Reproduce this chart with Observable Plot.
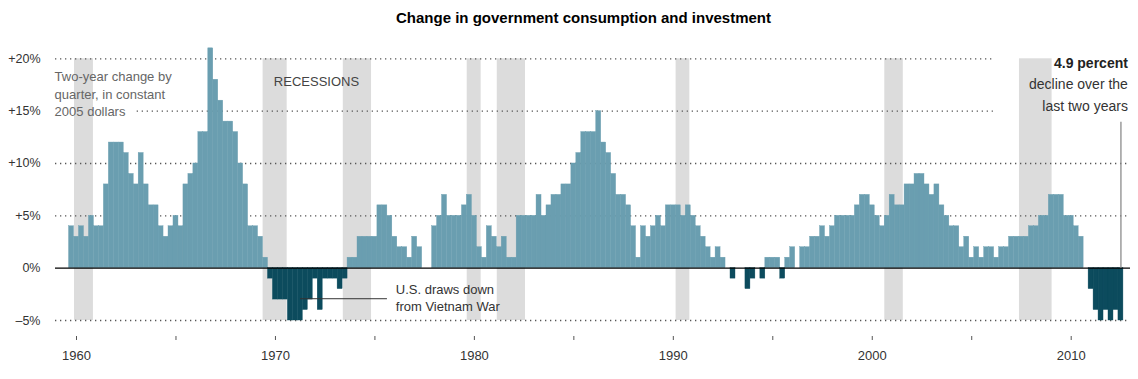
<!DOCTYPE html>
<html><head><meta charset="utf-8">
<script src="https://cdn.jsdelivr.net/npm/d3@7"></script>
<script src="https://cdn.jsdelivr.net/npm/@observablehq/plot@0.6"></script>
<style>
body{margin:0;background:#fff;font-family:"Liberation Sans",Arial,sans-serif;}
#title{height:36px;line-height:36px;font-size:15px;font-weight:bold;text-align:center;padding-left:29px;width:1109px;color:#000;}
#chart svg{display:block;}
</style></head><body>
<div id="title">Change in government consumption and investment</div>
<div id="chart"></div>
<script>
// Quarterly two-year change (%), first bar = 1959 Q4
const firstYear = 1959, firstQuarter = 4;
const values = [
 4,3,4,3,5,4,4,8,12,12,12,11,9,8,11,8,6,6,4,3,4,5,4,8,9,10,13,13,21,18,
 16,14,14,13,10,8,4,4,3,1,-1,-3,-3,-3,-5,-5,-5,-4,-3,-1,-4,-1,-1,-1,-2,-1,1,1,3,3,
 3,3,6,6,5,3,2,2,1,3,2,0,0,4,5,7,5,5,5,6,7,5,2,1,4,3,2,3,1,1,
 5,5,5,5,7,5,6,7,7,8,8,10,11,13,13,13,15,12,11,9,7,7,6,4,1,4,3,4,5,4,
 6,6,6,5,6,5,4,3,2,1,2,1,0,-1,0,0,-2,-1,0,-1,1,1,1,-1,1,2,0,2,2,3,
 3,4,3,4,5,5,5,5,6,7,7,6,5,4,5,7,6,6,8,8,9,9,8,7,8,6,5,4,4,2,
 3,1,2,1,2,2,1,2,2,3,3,3,3,4,4,5,5,7,7,7,5,5,4,3,0,-2,-4,-5,-4,-5,
 -4,-5
];
// Recession bands (decimal years as drawn)
const recessionStart = [1959.9, 1969.38, 1973.41, 1979.64, 1981.15, 1990.14, 2000.63, 2007.4];
const recessionEnd   = [1960.85, 1970.59, 1974.83, 1980.34, 1982.57, 1990.83, 2001.56, 2009.04];
// Axis ticks
const yTicks = [20, 15, 10, 5, 0, -5];
const yTickLabels = ["+20%", "+15%", "+10%", "+5%", "0%", "\u20135%"];
const xTicks = [1960, 1965, 1970, 1975, 1980, 1985, 1990, 1995, 2000, 2005, 2010];
const xTickLabels = ["1960", "", "1970", "", "1980", "", "1990", "", "2000", "", "2010"];
// Dotted gridlines (value, start year, end year)
const gridValues = [20, 15, 10, 5, -5];
const gridFrom = [1958.944, 1963.05, 1958.944, 1958.944, 1958.944];
const gridTo = [2006.09, 2006.09, 2012.98, 2012.98, 2012.98];

const posColor = "#6a9eb0", negColor = "#0c4b5d";

const quarters = values.map((v, i) => {
  const k = (firstQuarter - 1) + i;
  return {year: firstYear + Math.floor(k / 4), q: (k % 4) + 1, t: firstYear + k / 4, value: v};
});
const recessions = recessionStart.map((s, i) => ({start: s, end: recessionEnd[i]}));
const grid = gridValues.map((v, i) => ({v, from: gridFrom[i], to: gridTo[i]}));
const last = quarters[quarters.length - 1];

const font = "'Liberation Sans', Arial, sans-serif";

const chart = Plot.plot({
  width: 1138, height: 343,
  marginLeft: 55, marginRight: 8, marginTop: 22.3, marginBottom: 59,
  x: {domain: [1958.944, 2012.981]},
  y: {domain: [-5, 20]},
  style: {fontFamily: font, fontSize: "13px", color: "#333", background: "#fff", overflow: "visible"},
  marks: [
    Plot.rect(recessions, {x1: "start", x2: "end", y1: -5, y2: 20, fill: "#dcdcdc"}),
    Plot.ruleY(grid, {y: "v", x1: "from", x2: "to", stroke: "#555", strokeWidth: 1.3, strokeDasharray: "1.3,3.7"}),
    Plot.rect(quarters.filter(d => d.value > 0), {x1: d => d.t - 0.125, x2: d => d.t + 0.125, y1: 0, y2: "value", fill: posColor, stroke: posColor, strokeWidth: 0.4}),
    Plot.rect(quarters.filter(d => d.value < 0), {x1: d => d.t - 0.125, x2: d => d.t + 0.125, y1: 0, y2: "value", fill: negColor, stroke: negColor, strokeWidth: 0.4}),
    Plot.ruleY([0], {stroke: "#000", strokeWidth: 1.3}),
    // annotation: Vietnam
    Plot.ruleY([{y: -2.92, x1: 1971.26, x2: 1975.63}], {y: "y", x1: "x1", x2: "x2", stroke: "#333", strokeWidth: 1}),
    Plot.text([{x: 1976.05, y: -2.05, t: "U.S. draws down"}, {x: 1976.05, y: -3.72, t: "from Vietnam War"}],
      {x: "x", y: "y", text: "t", textAnchor: "start", fontSize: 13, fill: "#333"}),
    // annotation: left note
    Plot.text([{x: 1958.9, y: 18.24, t: "Two-year change by"}, {x: 1958.9, y: 16.59, t: "quarter, in constant"}, {x: 1958.9, y: 14.9, t: "2005 dollars"}],
      {x: "x", y: "y", text: "t", textAnchor: "start", fontSize: 13, fill: "#666"}),
    Plot.text([{x: 1969.92, y: 17.77, t: "RECESSIONS"}],
      {x: "x", y: "y", text: "t", textAnchor: "start", fontSize: 13, fill: "#444"}),
    // annotation: last two years
    Plot.ruleX([last], {x: "t", y1: 0, y2: 13.94, stroke: "#8c8c8c", strokeWidth: 1.3}),
    Plot.text([{x: 2012.85, y: 19.52, t: "4.9 percent"}],
      {x: "x", y: "y", text: "t", textAnchor: "end", fontSize: 14, fontWeight: "bold", fill: "#222"}),
    Plot.text([{x: 2012.85, y: 17.52, t: "decline over the"}, {x: 2012.85, y: 15.47, t: "last two years"}],
      {x: "x", y: "y", text: "t", textAnchor: "end", fontSize: 14, fill: "#333"}),
    Plot.axisY({ticks: yTicks, tickFormat: d => yTickLabels[yTicks.indexOf(d)], tickSize: 0, tickPadding: 15, fontSize: 12.5, label: null}),
    Plot.axisX({ticks: xTicks, tickFormat: d => xTickLabels[xTicks.indexOf(d)], tickSize: 4, tickPadding: 10, dy: 16, stroke: "#555", fontSize: 13, label: null})
  ]
});
document.getElementById("chart").appendChild(chart);
</script>
</body></html>
